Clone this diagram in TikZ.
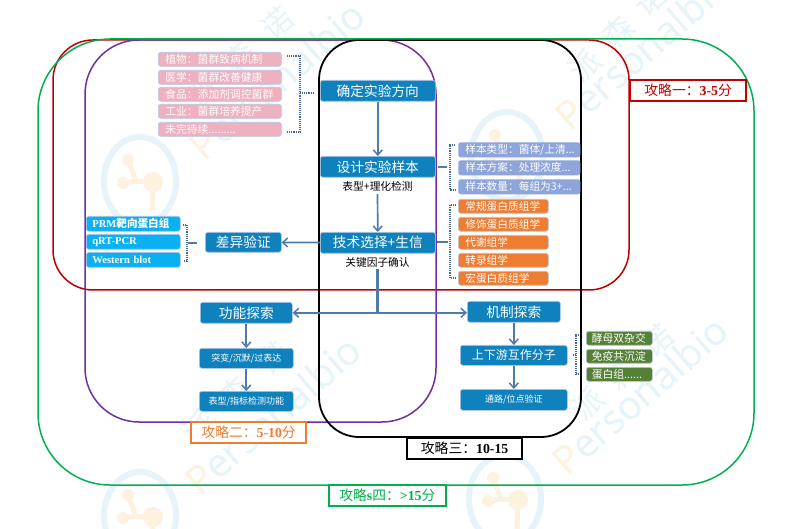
\documentclass[tikz,border=0pt]{standalone}
\usepackage{fontspec}
\setmainfont{Noto Sans CJK SC}
\newfontfamily\lat{Liberation Serif}
\newfontfamily\wm{Noto Sans}
\usetikzlibrary{arrows.meta,positioning}
\definecolor{nodeblue}{HTML}{0F82BE}
\definecolor{edgeblue}{HTML}{4F7BAA}
\definecolor{pinkb}{HTML}{EFB1BF}
\definecolor{peri}{HTML}{8DA5DB}
\definecolor{orangeb}{HTML}{EE7D31}
\definecolor{cyanb}{HTML}{09B0F2}
\definecolor{greenb}{HTML}{548135}
\definecolor{rimb}{HTML}{B4C7E7}
\definecolor{gr}{HTML}{00B050}
\definecolor{rd}{HTML}{C00000}
\definecolor{pu}{HTML}{7030A0}
\definecolor{wmb}{HTML}{E6F3F9}
\definecolor{wmo}{HTML}{FDF1E0}
\tikzset{
 x=1pt,y=-1pt,
 box/.style={draw=rimb,line width=.6pt,rounded corners=2.5pt,text=white,inner sep=0pt,anchor=north west},
 main/.style={box,fill=nodeblue,font=\fontsize{13.7}{14}\selectfont},
 smallmain/.style={box,fill=nodeblue,font=\fontsize{9}{10}\selectfont},
 pink/.style={box,fill=pinkb,minimum width=123pt,minimum height=14pt,text width=109pt,align=left,font=\fontsize{10.8}{11}\selectfont},
 peribox/.style={box,fill=peri,draw=none,minimum width=122pt,minimum height=15pt,text width=108pt,align=left,font=\fontsize{10.7}{11}\selectfont},
 orbox/.style={box,fill=orangeb,minimum width=90pt,minimum height=14pt,text width=76pt,align=left,font=\fontsize{10.7}{11}\selectfont},
 cybox/.style={box,fill=cyanb,minimum width=94pt,minimum height=15pt,text width=82pt,align=left,font=\lat\bfseries\fontsize{10.6}{11}\selectfont},
 grbox/.style={box,fill=greenb,minimum width=66pt,minimum height=14pt,text width=55pt,align=left,font=\fontsize{10.8}{11}\selectfont},
 caption/.style={font=\fontsize{10.7}{11}\selectfont,inner sep=0pt},
 conn/.style={draw=edgeblue,line width=1.7pt},
 arr/.style={conn,-{Straight Barb[length=5pt,width=9pt,line width=1.5pt]}},
 brk/.style={draw=edgeblue!85!black,line width=1.1pt,densely dotted},
 stem/.style={draw=edgeblue,line width=1.2pt},
 area/.style={line width=1.5pt},
 tag/.style={draw,fill=white,line width=2.2pt,inner sep=0pt,anchor=north west,minimum height=21pt,font=\lat\bfseries\fontsize{13.8}{14}\selectfont},
 wmtext/.style={text=wmb,rotate=41,font=\wm\fontsize{39}{39}\selectfont,anchor=center},
 wmcn/.style={text=wmb,rotate=42,font=\fontsize{31}{31}\selectfont,anchor=center},
}
\newcommand{\wmlogo}[2]{%
 \begin{scope}[shift={(#1,#2)}]
  \draw[wmb,line width=6pt] (0,0) ellipse[x radius=36,y radius=44];
  \draw[wmo,line width=5pt] (-12,-21)--(-4,0)--(13,1)--(12,30) (-4,0)--(-17,2);
  \fill[wmo] (-12,-21) circle (6); \fill[wmo] (13,1) circle (10); \fill[wmo] (-17,2) circle (6);
 \end{scope}}
\newcommand{\cjkn}[1]{{\fontspec{Noto Sans CJK SC}\bfseries #1}}
\newcommand{\cjkr}[1]{{\fontspec{Noto Sans CJK SC}\mdseries #1}}
\newcommand{\wmword}{{\color{wmo}P}ersonalbio}
\begin{document}
\begin{tikzpicture}
\useasboundingbox (0,0) rectangle (790,529);
\fill[white] (0,0) rectangle (790,529);
% watermark
\begin{scope}
\clip (0,0) rectangle (790,529);
\wmlogo{140}{181}\wmlogo{507}{156}\wmlogo{140}{516}\wmlogo{505}{499}
\node[wmtext] (w1) at (277,80) {\wmword};
\node[wmtext] (w2) at (273,415) {\wmword};
\node[wmtext] (w3) at (640,395) {\wmword};
\node[wmtext] (w4) at (643,50) {\wmword};
\node[wmcn] (c1a) at (203,91) {派};\node[wmcn] (c1b) at (240,57) {森};\node[wmcn] (c1c) at (277,23) {诺};
\node[wmcn] (c2a) at (199,426) {派};\node[wmcn] (c2b) at (236,392) {森};\node[wmcn] (c2c) at (273,358) {诺};
\node[wmcn] (c3a) at (588,403) {派};\node[wmcn] (c3b) at (622,372) {森};\node[wmcn] (c3c) at (657,340) {诺};
\node[wmcn] (c4a) at (585,65) {派};\node[wmcn] (c4b) at (618,32) {森};\node[wmcn] (c4c) at (650,-1) {诺};
\end{scope}
% areas
\draw[area,rd,rounded corners=40pt] (53,40) rectangle (629,290);
\draw[area,pu,rounded corners=54pt] (85,40) rectangle (436,422);
\draw[area,black,line width=1.8pt,rounded corners=40pt] (319,40) rectangle (581,437);
\draw[area,gr,rounded corners=72pt] (38,39) rectangle (754,485);
% main column
\node[main,minimum width=115pt,minimum height=21pt] (dir) at (320,80) {确定实验方向};
\node[main,minimum width=115pt,minimum height=21pt] (des) at (320,156) {设计实验样本};
\node[main,minimum width=115pt,minimum height=21pt] (tec) at (320,232) {技术选择+生信};
\node[caption] (t1) at (377.5,186) {表型+理化检测};
\node[caption] (t2) at (377.5,262) {关键因子确认};
\node[main,minimum width=76pt,minimum height=20pt] (dif) at (205,232) {差异验证};
\node[main,minimum width=92pt,minimum height=21pt] (fun) at (200,302) {功能探索};
\node[smallmain,minimum width=94pt,minimum height=20pt] (f1) at (199,348) {突变/沉默/过表达};
\node[smallmain,minimum width=94pt,minimum height=20pt] (f2) at (199,391) {表型/指标检测功能};
\node[main,minimum width=93pt,minimum height=21pt] (mec) at (467,301) {机制探索};
\node[main,font=\fontsize{12}{13}\selectfont,minimum width=107pt,minimum height=20pt] (m1) at (460,345) {上下游互作分子};
\node[smallmain,minimum width=107pt,minimum height=21pt] (m2) at (460,389) {通路/位点验证};
% pink
\node[pink] (p1) at (158,52) {植物：菌群致病机制};
\node[pink] (p2) at (158,70) {医学：菌群改善健康};
\node[pink] (p3) at (158,87) {食品：添加剂调控菌群};
\node[pink] (p4) at (158,104) {工业：菌群培养提产};
\node[pink] (p5) at (158,122) {未完待续.........};
% periwinkle
\node[peribox] (s1) at (458,142) {样本类型：菌体/上清...};
\node[peribox] (s2) at (458,160) {样本方案：处理浓度...};
\node[peribox] (s3) at (458,179) {样本数量：每组为3+...};
% orange
\node[orbox] (o1) at (458,199) {常规蛋白质组学};
\node[orbox] (o2) at (458,217) {修饰蛋白质组学};
\node[orbox] (o3) at (458,235) {代谢组学};
\node[orbox] (o4) at (458,253) {转录组学};
\node[orbox] (o5) at (458,271) {宏蛋白质组学};
% cyan
\node[cybox] (y1) at (86,216) {PRM\cjkn{靶向蛋白组}};
\node[cybox] (y2) at (86,234) {qRT-PCR};
\node[cybox] (y3) at (86,252) {Western blot};
% green
\node[grbox] (g1) at (586,331) {酵母双杂交};
\node[grbox] (g2) at (586,349) {免疫共沉淀};
\node[grbox] (g3) at (586,367) {蛋白组......};
% tags
\node[tag,draw=rd,text=rd,minimum width=116pt] (l1) at (629,79) {\cjkr{攻略一：}3-5\cjkr{分}};
\node[tag,draw=orangeb,text=orangeb,minimum width=115pt] (l2) at (190,421) {\cjkr{攻略二：}5-10\cjkr{分}};
\node[tag,draw=black,text=black,minimum width=115pt] (l3) at (406,437) {\cjkr{攻略三：}10-15};
\node[tag,draw=gr,text=gr,line width=1.8pt,minimum width=117pt] (l4) at (328,484) {\cjkr{攻略}s\cjkr{四：}>15\cjkr{分}};
% connectors
\draw[arr] (dir) -- (des);
\draw[arr,shorten <=3pt] (t1) -- (tec);
\draw[arr] (tec) -- (dif);
\coordinate (j) at (t2 |- fun);
\draw[edgeblue,line width=2.2pt,shorten <=2pt] (t2) -- (j);
\draw[arr] (j) -- (fun);
\draw[arr] (j) -- (mec.west |- j);
\draw[arr] (fun.south -| f1) -- (f1);
\draw[arr] (f1) -- (f2);
\draw[arr] (mec.south -| m1) -- (m1);
\draw[arr] (m1) -- (m2);
% brackets
\coordinate (bp) at (313,93);
\draw[brk] (287,56) -- (300,56) -- (300,132) -- (287,132);
\draw[brk] (300,93) -- (bp);
\coordinate (bs) at (438,167);
\draw[brk] (455,145) -- (450,145) -- (450,190) -- (455,190);
\draw[stem] (bs) -- (447,167);
\coordinate (bo) at (437,242);
\draw[brk] (456,205) -- (450,205) -- (450,278) -- (456,278);
\draw[stem] (bo) -- (448,242);
\coordinate (bc) at (197,243);
\draw[brk] (183,225) -- (187,225) -- (187,261) -- (183,261);
\draw[stem] (bc) -- (188,243);
\coordinate (bg) at (573,355);
\draw[brk] (579,335) -- (576,335) -- (576,374) -- (579,374);
\draw[brk] (bg) -- (577,355);
\end{tikzpicture}
\end{document}
